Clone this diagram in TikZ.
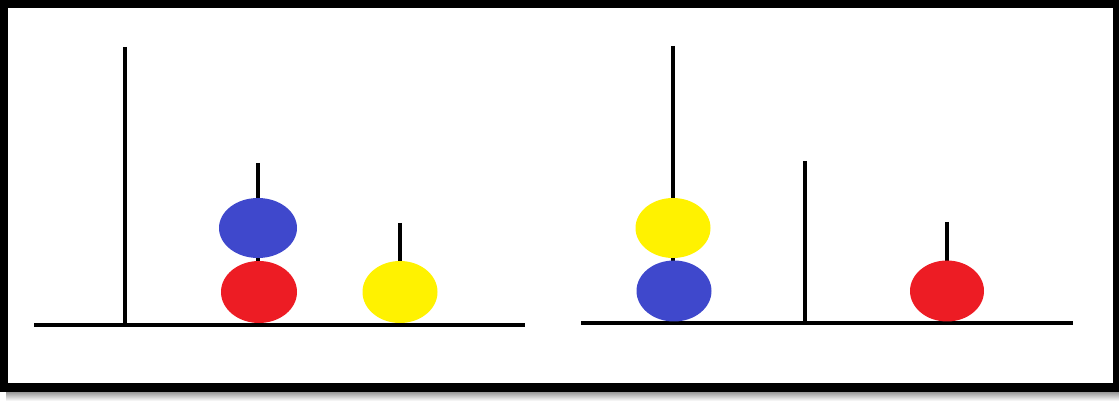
\documentclass[tikz,border=0pt]{standalone}
\definecolor{paintred}{RGB}{237,28,36}
\definecolor{paintblue}{RGB}{63,72,204}
\definecolor{paintyellow}{RGB}{255,242,0}
\tikzset{
    rod/.style={line width=2.4pt, black},
    ball/.style={fill=#1, draw=none}
}
\begin{document}
\begin{tikzpicture}[x=0.02cm, y=-0.02cm]
        \useasboundingbox (0,0) rectangle (1119,401);
        % shadow and frame
        \shade[top color=black!45, bottom color=white] (6,391) rectangle (1119,401);
        \draw[line width=4.6pt, black] (4,3.5) rectangle (1117,387.5);
        % left state
        \draw[rod] (34,325) -- (525,325);
        \draw[rod] (125,47) -- (125,325);
        \draw[rod] (258,163) -- (258,325);
        \draw[rod] (400,223) -- (400,325);
        \fill[ball=paintred] (259,292) ellipse (38 and 31);
        \fill[ball=paintblue] (258,228) ellipse (39 and 30);
        \fill[ball=paintyellow] (400,292) ellipse (37.5 and 31);
        % right state
        \draw[rod] (581,323) -- (1073,323);
        \draw[rod] (673,46) -- (673,323);
        \draw[rod] (805,161) -- (805,323);
        \draw[rod] (947,222) -- (947,323);
        \fill[ball=paintblue] (674,291) ellipse (37.5 and 30.5);
        \fill[ball=paintyellow] (673,228) ellipse (37.5 and 30);
        \fill[ball=paintred] (947,291) ellipse (37 and 30.5);
    \end{tikzpicture}
\end{document}
